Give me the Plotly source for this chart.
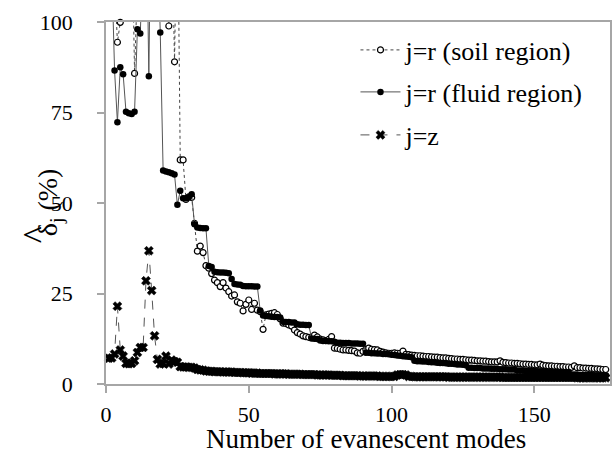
import plotly.graph_objects as go

modes = list(range(1, 176))

soil = [
    130, 125, 112, 94.4, 99.9, 150, 160, 150, 130, 85.8,
    140, 150, 160, 160, 160, 160, 160, 150, 140, 130,
    125, 98.9, 130, 89.0, 140, 61.9, 61.9, 51.0, 51.7, 51.5,
    44.4, 36.7, 38.1, 36.3, 32.7, 32.0, 30.5, 28.7, 28.0, 26.9,
    28.0, 26.5, 25.5, 24.3, 24.6, 22.7, 22.3, 20.2, 22.0, 23.2,
    20.6, 22.3, 20.4, 20.0, 15.1, 19.1, 19.3, 19.5, 19.7, 19.2,
    18.0, 16.8, 16.7, 16.3, 16.0, 14.9, 14.2, 13.8, 13.3, 13.1,
    12.9, 12.9, 13.5, 13.0, 12.4, 12.2, 12.0, 12.3, 13.1, 9.9,
    9.8, 9.6, 9.4, 9.4, 9.3, 9.2, 9.1, 8.6, 8.5, 9.0,
    9.5, 9.9, 9.6, 9.5, 9.4, 9.0, 8.8, 8.6, 8.5, 8.5,
    8.6, 8.5, 8.5, 9.1, 8.2, 8.1, 8.0, 7.9, 7.8, 7.8,
    7.7, 7.6, 7.6, 7.5, 7.4, 7.4, 7.3, 7.2, 7.2, 7.1,
    7.0, 6.9, 6.9, 6.8, 6.8, 6.7, 6.6, 6.6, 6.5, 6.4,
    6.4, 6.3, 6.3, 6.2, 6.1, 6.1, 6.1, 6.4, 6.0, 5.9,
    5.8, 5.8, 5.7, 5.7, 5.6, 5.5, 5.5, 5.4, 5.4, 5.3,
    5.3, 5.5, 5.2, 5.1, 5.0, 5.0, 4.9, 4.9, 4.8, 4.8,
    4.7, 4.7, 4.6, 5.0, 4.5, 4.5, 4.4, 4.4, 4.3, 4.3,
    4.2, 4.2, 4.1, 4.0, 4.0,
]

fluid = [
    130, 115, 86.6, 72.3, 87.5, 85.6, 75.2, 74.8, 74.6, 75.2,
    98.0, 96.8, 130, 140, 85.0, 150, 140, 125, 97.1, 59.0,
    58.7, 58.5, 58.2, 57.9, 49.5, 53.4, 51.3, 51.3, 51.6, 52.4,
    44.1, 43.2, 43.1, 43.0, 43.0, 32.6, 32.3, 31.0, 30.9, 30.8,
    30.8, 30.7, 30.6, 29.0, 27.6, 27.5, 27.4, 27.1, 27.0, 27.0,
    27.0, 26.9, 26.9, 20.3, 18.9, 18.8, 18.7, 18.6, 18.5, 18.5,
    18.4, 17.2, 17.1, 17.1, 17.0, 17.0, 16.5, 16.4, 16.4, 16.3,
    16.3, 12.6, 12.5, 12.4, 12.0, 11.9, 11.9, 11.8, 11.8, 11.7,
    11.4, 11.4, 11.3, 11.3, 11.3, 11.2, 11.2, 11.2, 11.1, 11.1,
    8.6, 8.6, 8.5, 8.5, 8.4, 8.4, 8.3, 8.3, 8.2, 8.1,
    8.0, 7.9, 7.8, 7.7, 7.6, 7.5, 7.4, 6.4, 6.3, 6.3,
    6.2, 6.2, 6.1, 6.0, 6.0, 5.9, 5.8, 5.8, 5.7, 5.6,
    5.6, 5.5, 5.4, 5.4, 5.3, 5.2, 4.5, 4.5, 4.4, 4.4,
    4.4, 4.3, 4.3, 4.3, 4.2, 4.2, 4.2, 4.1, 4.1, 4.1,
    4.0, 4.0, 4.0, 3.7, 3.7, 3.7, 3.6, 3.6, 3.6, 3.6,
    3.5, 3.5, 3.5, 3.5, 3.4, 3.4, 3.4, 3.4, 3.3, 3.3,
    3.3, 3.3, 2.6, 2.6, 2.6, 2.5, 2.5, 2.5, 2.5, 2.5,
    2.4, 2.4, 2.4, 2.4, 2.4,
]

jz = [
    7.1, 7.2, 8.3, 21.5, 9.4, 7.7, 5.7, 5.6, 5.7, 6.4,
    8.7, 10.1, 10.1, 28.5, 36.8, 25.8, 13.3, 6.8, 5.5, 5.7,
    7.7, 5.5, 6.6, 6.2, 6.0, 4.8, 4.7, 4.7, 4.6, 4.6,
    4.4, 4.0, 3.9, 3.8, 3.6, 3.5, 3.5, 3.4, 3.4, 3.4,
    3.3, 3.3, 3.3, 3.3, 3.2, 3.2, 3.2, 3.1, 3.1, 3.1,
    3.0, 3.0, 3.0, 2.9, 2.9, 2.9, 2.9, 2.9, 2.8, 2.8,
    2.8, 2.8, 2.8, 2.7, 2.7, 2.7, 2.7, 2.7, 2.6, 2.6,
    2.6, 2.6, 2.6, 2.5, 2.5, 2.5, 2.5, 2.5, 2.4, 2.4,
    2.4, 2.4, 2.3, 2.3, 2.3, 2.3, 2.3, 2.3, 2.2, 2.2,
    2.2, 2.2, 2.2, 2.2, 2.2, 2.1, 2.1, 2.1, 2.1, 2.1,
    2.1, 2.5, 2.6, 2.6, 2.5, 2.1, 2.1, 2.0, 2.0, 2.0,
    2.0, 2.0, 2.0, 2.0, 2.0, 2.0, 2.0, 2.0, 2.0, 1.9,
    1.9, 1.9, 1.9, 1.9, 1.9, 1.9, 1.9, 1.9, 1.9, 1.9,
    1.9, 1.9, 1.9, 1.9, 1.9, 1.9, 1.9, 1.9, 1.8, 1.8,
    1.8, 1.8, 1.8, 1.8, 1.8, 1.8, 1.8, 1.8, 1.8, 1.8,
    1.8, 1.8, 1.8, 1.8, 1.8, 1.8, 1.8, 1.8, 1.8, 1.8,
    1.8, 1.8, 1.8, 1.8, 1.7, 1.7, 1.7, 1.7, 1.7, 1.7,
    1.7, 1.7, 1.7, 1.7, 1.7,
]

x_ticks = [0, 50, 100, 150]
y_ticks = [0, 25, 50, 75, 100]

FONT = "Liberation Serif"

fig = go.Figure()
fig.add_trace(go.Scatter(
    x=modes, y=soil, name="j=r (soil region)", mode="lines+markers",
    legend="legend", cliponaxis=False,
    line=dict(color="#444444", width=1, dash="dot"),
    marker=dict(symbol="circle", size=6, color="white",
                line=dict(color="black", width=1.2)),
))
fig.add_trace(go.Scatter(
    x=modes, y=fluid, name="j=r (fluid region)", mode="lines+markers",
    legend="legend2", cliponaxis=False,
    line=dict(color="#555555", width=1),
    marker=dict(symbol="circle", size=6.5, color="black",
                line=dict(color="black", width=0)),
))
fig.add_trace(go.Scatter(
    x=modes, y=jz, name="j=z", mode="lines+markers",
    legend="legend3", cliponaxis=False,
    line=dict(color="#555555", width=1, dash="dash"),
    marker=dict(symbol="x", size=8, color="black",
                line=dict(color="black", width=0.5)),
))

axis_common = dict(
    showgrid=False, zeroline=False, showline=True, linecolor="#a6a6a6",
    linewidth=1.5, mirror=True, ticks="outside", tickcolor="#a6a6a6",
    ticklen=7, tickwidth=1.5, tickfont=dict(family=FONT, size=22, color="black"),
)

def leg(ypx):
    return dict(x=0.495, y=(384 - ypx) / 362, xanchor="left", yanchor="middle",
                bgcolor="rgba(0,0,0,0)", font=dict(family=FONT, size=26),
                itemwidth=40)

fig.update_layout(
    width=616, height=457,
    margin=dict(l=106, r=4, t=22, b=73),
    paper_bgcolor="white", plot_bgcolor="white",
    font=dict(family=FONT, color="black"),
    showlegend=True,
    legend=leg(50), legend2=leg(92), legend3=leg(135),
    xaxis=dict(range=[0, 176.5], tickvals=x_ticks, ticklabelstandoff=3,
               **axis_common),
    yaxis=dict(range=[0, 100], tickvals=y_ticks, ticklabelstandoff=20,
               **axis_common),
    annotations=[
        dict(text="Number of evanescent modes", xref="paper", yref="paper",
             x=(367 - 106) / 506, y=-(439 - 384) / 362,
             xanchor="center", yanchor="middle",
             showarrow=False, font=dict(family=FONT, size=27, color="black")),
        dict(text="δ<sub>j</sub> (%)", xref="paper", yref="paper",
             x=(50 - 106) / 506, y=(384 - 202) / 362,
             xanchor="center", yanchor="middle",
             textangle=-90, showarrow=False,
             font=dict(family=FONT, size=28, color="black")),
        dict(text="^", xref="paper", yref="paper",
             x=(36 - 106) / 506, y=(384 - 235) / 362,
             xanchor="center", yanchor="middle",
             textangle=-90, showarrow=False,
             font=dict(family=FONT, size=36, color="black")),
    ],
)

fig.write_html("out.html")
